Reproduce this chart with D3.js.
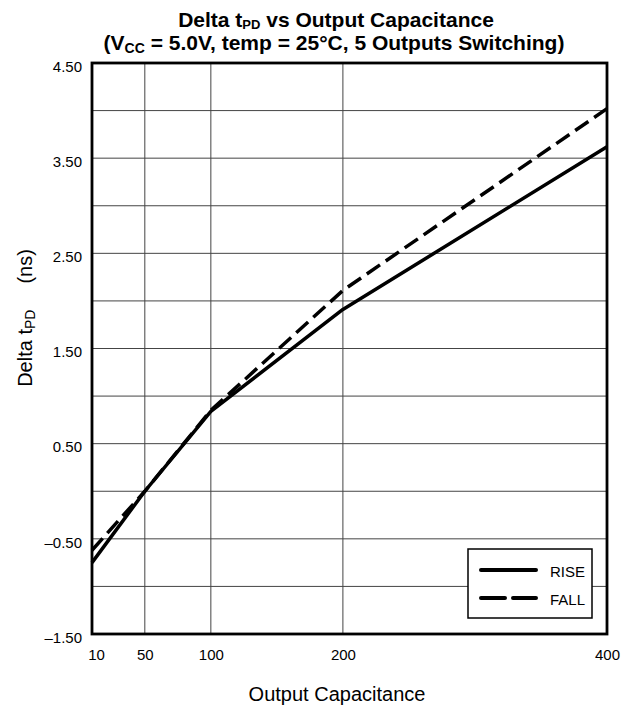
<!DOCTYPE html>
<html>
<head>
<meta charset="utf-8">
<script src="https://cdn.jsdelivr.net/npm/d3@7"></script>
<style>
  body { margin: 0; background: #fff; }
  text { font-family: "Liberation Sans", Arial, sans-serif; fill: #000; }
</style>
</head>
<body>
<div id="chart"></div>
<script>
const WIDTH = 630;
const HEIGHT = 708;

// data
const capacitance = [10, 50, 100, 200, 400];
const rise = [-0.75, 0.0, 0.84, 1.91, 3.62];
const fall = [-0.62, 0.0, 0.85, 2.11, 4.02];

const xTicks = [10, 50, 100, 200, 400];
const xGrid = [50, 100, 200];
const yLabels = [-1.5, -0.5, 0.5, 1.5, 2.5, 3.5, 4.5];
const yGrid = [-1.0, -0.5, 0.0, 0.5, 1.0, 1.5, 2.0, 2.5, 3.0, 3.5, 4.0];

const margin = { left: 92, right: 23, top: 63, bottom: 74 };

const svg = d3.select("#chart")
    .append("svg")
    .attr("width", WIDTH)
    .attr("height", HEIGHT);

const x = d3.scaleLinear()
    .domain([10, 400])
    .range([margin.left, WIDTH - margin.right]);

const y = d3.scaleLinear()
    .domain([-1.5, 4.5])
    .range([HEIGHT - margin.bottom, margin.top]);

/* GRID */
const grid = svg.append("g")
    .attr("stroke", "#444")
    .attr("stroke-width", 1);

grid.selectAll("line.v")
    .data(xGrid)
    .enter()
    .append("line")
    .attr("x1", d => x(d)).attr("x2", d => x(d))
    .attr("y1", y(-1.5)).attr("y2", y(4.5));

grid.selectAll("line.h")
    .data(yGrid)
    .enter()
    .append("line")
    .attr("x1", x(10)).attr("x2", x(400))
    .attr("y1", d => y(d)).attr("y2", d => y(d));

/* AXES (labels only, frame drawn below) */
const fmt = d => (d < 0 ? "\u2013" : "") + Math.abs(d).toFixed(2);

const yAxis = svg.append("g")
    .attr("transform", `translate(${margin.left},0)`)
    .call(d3.axisLeft(y).tickValues(yLabels).tickSize(0).tickPadding(10).tickFormat(fmt));

const xAxis = svg.append("g")
    .attr("transform", `translate(0,${HEIGHT - margin.bottom})`)
    .call(d3.axisBottom(x).tickValues(xTicks).tickSize(0).tickPadding(15).tickFormat(d3.format("d")));

[yAxis, xAxis].forEach(a => {
    a.select(".domain").remove();
    a.selectAll("text")
        .style("font-family", "'Liberation Sans', Arial, sans-serif")
        .style("font-size", "15px")
        .attr("fill", "#000");
});
yAxis.selectAll("text").attr("dy", "0.55em");
// first x label sits a little right of its gridline in the original
xAxis.selectAll("text").filter(d => d === 10).attr("dx", 4);

/* LINES */
const points = (vals) => capacitance.map((c, i) => [c, vals[i]]);

const line = d3.line()
    .x(d => x(d[0]))
    .y(d => y(d[1]));

svg.append("path")
    .datum(points(rise))
    .attr("d", line)
    .attr("fill", "none")
    .attr("stroke", "#000")
    .attr("stroke-width", 3.5)
    .attr("stroke-linejoin", "round");

svg.append("path")
    .datum(points(fall))
    .attr("d", line)
    .attr("fill", "none")
    .attr("stroke", "#000")
    .attr("stroke-width", 3.5)
    .attr("stroke-dasharray", "16,7");

/* FRAME */
svg.append("rect")
    .attr("x", x(10))
    .attr("y", y(4.5))
    .attr("width", x(400) - x(10))
    .attr("height", y(-1.5) - y(4.5))
    .attr("fill", "none")
    .attr("stroke", "#000")
    .attr("stroke-width", 2.8);

/* LEGEND */
const legend = svg.append("g").attr("transform", "translate(468,549)");

legend.append("rect")
    .attr("width", 124)
    .attr("height", 69)
    .attr("fill", "#fff")
    .attr("stroke", "#000")
    .attr("stroke-width", 1.5);

const legendItems = [
    { name: "RISE", dash: null },
    { name: "FALL", dash: "24,8" }
];

legendItems.forEach((item, i) => {
    const ly = 21 + i * 28;
    legend.append("line")
        .attr("x1", 13).attr("x2", 68)
        .attr("y1", ly).attr("y2", ly)
        .attr("stroke", "#000")
        .attr("stroke-width", 4)
        .attr("stroke-linecap", "round")
        .attr("stroke-dasharray", item.dash);
    legend.append("text")
        .attr("x", 82)
        .attr("y", ly + 7)
        .style("font-size", "15px")
        .text(item.name);
});

/* TITLES */
const title1 = svg.append("text")
    .attr("x", 336).attr("y", 27)
    .attr("text-anchor", "middle")
    .style("font-size", "21px")
    .style("font-weight", "bold");
title1.append("tspan").text("Delta t");
title1.append("tspan").attr("dy", 2).style("font-size", "13px").text("PD");
title1.append("tspan").attr("dy", -2).text(" vs Output Capacitance");

const title2 = svg.append("text")
    .attr("x", 334).attr("y", 50)
    .attr("text-anchor", "middle")
    .style("font-size", "21px")
    .style("font-weight", "bold");
title2.append("tspan").text("(V");
title2.append("tspan").attr("dy", 3).style("font-size", "14px").text("CC");
title2.append("tspan").attr("dy", -3).text(" = 5.0V, temp = 25\u00B0C, 5 Outputs Switching)");

svg.append("text")
    .attr("x", 337).attr("y", 701)
    .attr("text-anchor", "middle")
    .style("font-size", "20px")
    .text("Output Capacitance");

const yTitle = svg.append("text")
    .attr("transform", `translate(32,318) rotate(-90)`)
    .attr("text-anchor", "middle")
    .style("font-size", "20px");
yTitle.append("tspan").text("Delta t");
yTitle.append("tspan").attr("dy", 3).style("font-size", "14px").text("PD");
yTitle.append("tspan").attr("dy", -3).attr("dx", 26).text("(ns)");
</script>
</body>
</html>
